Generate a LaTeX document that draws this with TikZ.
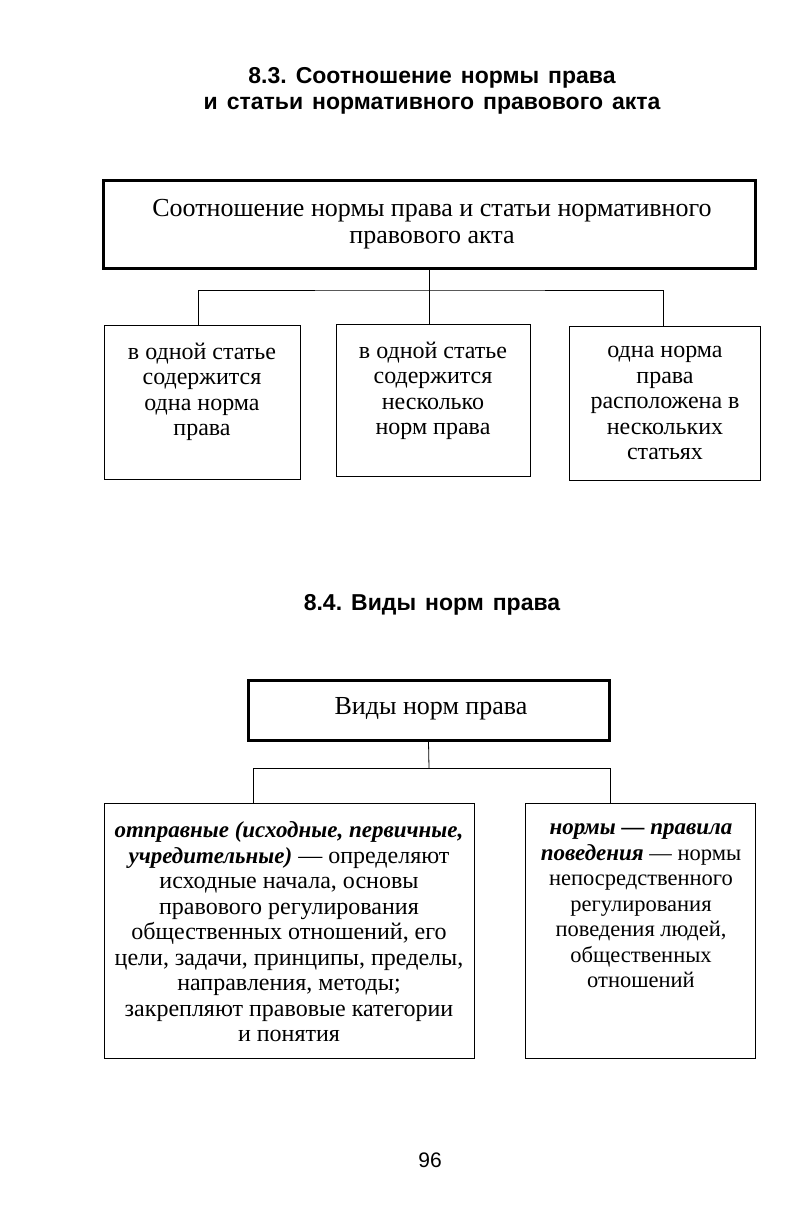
\documentclass[tikz,border=0pt]{standalone}
\usepackage{fontspec}
\setmainfont{Liberation Serif}
\newfontfamily\headfont{Liberation Sans}
\newcommand{\bitx}[1]{{\fontsize{23}{25.5}\selectfont\textbf{\textit{#1}}}}
\newcommand{\headsetup}{\headfont\bfseries\fontsize{23}{26}\selectfont\frenchspacing\spaceskip=9pt\relax}
\begin{document}
\begin{tikzpicture}[x=1pt,y=-1pt,
  thin box/.style={draw,line width=0.8pt,inner sep=0pt},
  thick box/.style={draw,line width=3pt,inner sep=0pt},
  btxt/.style={align=center,font=\fontsize{24}{25.5}\selectfont,inner sep=0pt},
  bigtxt/.style={align=center,font=\fontsize{26}{27}\selectfont,inner sep=0pt},
  htxt/.style={align=center,font=\headsetup,inner sep=0pt},
  conn/.style={line width=0.8pt}]
\useasboundingbox (0,0) rectangle (792,1227);
% heading 1
\node[htxt] (h1) at (432,91) {8.3. Соотношение нормы права\\и статьи нормативного правового акта};
% top box
\node[thick box,minimum width=652pt,minimum height=88pt] (top) at (429,224) {};
\node[bigtxt] (toptxt) at (432,224) {Соотношение нормы права и статьи нормативного\\правового акта};
% boxes
\node[thin box,minimum width=196pt,minimum height=154pt] (b1) at (202,402) {};
\node[btxt] (b1t) at (202,392) {в одной статье\\содержится\\одна норма\\права};
\node[thin box,minimum width=194pt,minimum height=152pt] (b2) at (433,400) {};
\node[btxt] (b2t) at (433,391) {в одной статье\\содержится\\несколько\\норм права};
\node[thin box,minimum width=191pt,minimum height=154pt] (b3) at (664.5,403) {};
\node[btxt] (b3t) at (665,403) {одна норма\\права\\расположена в\\нескольких\\статьях};
% connectors
\coordinate (j1) at (429,290);
\draw[conn] (top.south) -- (j1);
\draw[conn] (b1.north -| 198,0) |- (j1) -| (b3.north -| 663,0);
\draw[conn] (j1) -- (j1 |- b2.north);
% heading 2
\node[htxt] (h2) at (432,605) {8.4. Виды норм права};
% box 2
\node[thick box,minimum width=361pt,minimum height=60pt] (vid) at (428.5,710) {};
\node[bigtxt] (vidt) at (431,709) {Виды норм права};
\node[thin box,minimum width=370pt,minimum height=255pt] (L) at (289,930.5) {};
\node[btxt] (Lt) at (289,932) {\bitx{отправные (исходные, первичные,}\\\bitx{учредительные)} — определяют\\исходные начала, основы\\правового регулирования\\общественных отношений, его\\цели, задачи, принципы, пределы,\\направления, методы;\\закрепляют правовые категории\\и понятия};
\node[thin box,minimum width=230pt,minimum height=255pt] (R) at (640,930.5) {};
\node[btxt,font=\fontsize{22.5}{25.5}\selectfont] (Rt) at (641,906) {\bitx{нормы — правила}\\\bitx{поведения} — нормы\\непосредственного\\регулирования\\поведения людей,\\общественных\\отношений};
\coordinate (j2) at (429,768);
\draw[conn] (vid.south) -- (j2);
\draw[conn] (L.north -| 253,0) |- (j2) -| (R.north -| 610,0);
% page number
\node[font=\headfont\fontsize{21}{22}\selectfont,inner sep=0pt] (pg) at (430,1160) {96};
\end{tikzpicture}
\end{document}
